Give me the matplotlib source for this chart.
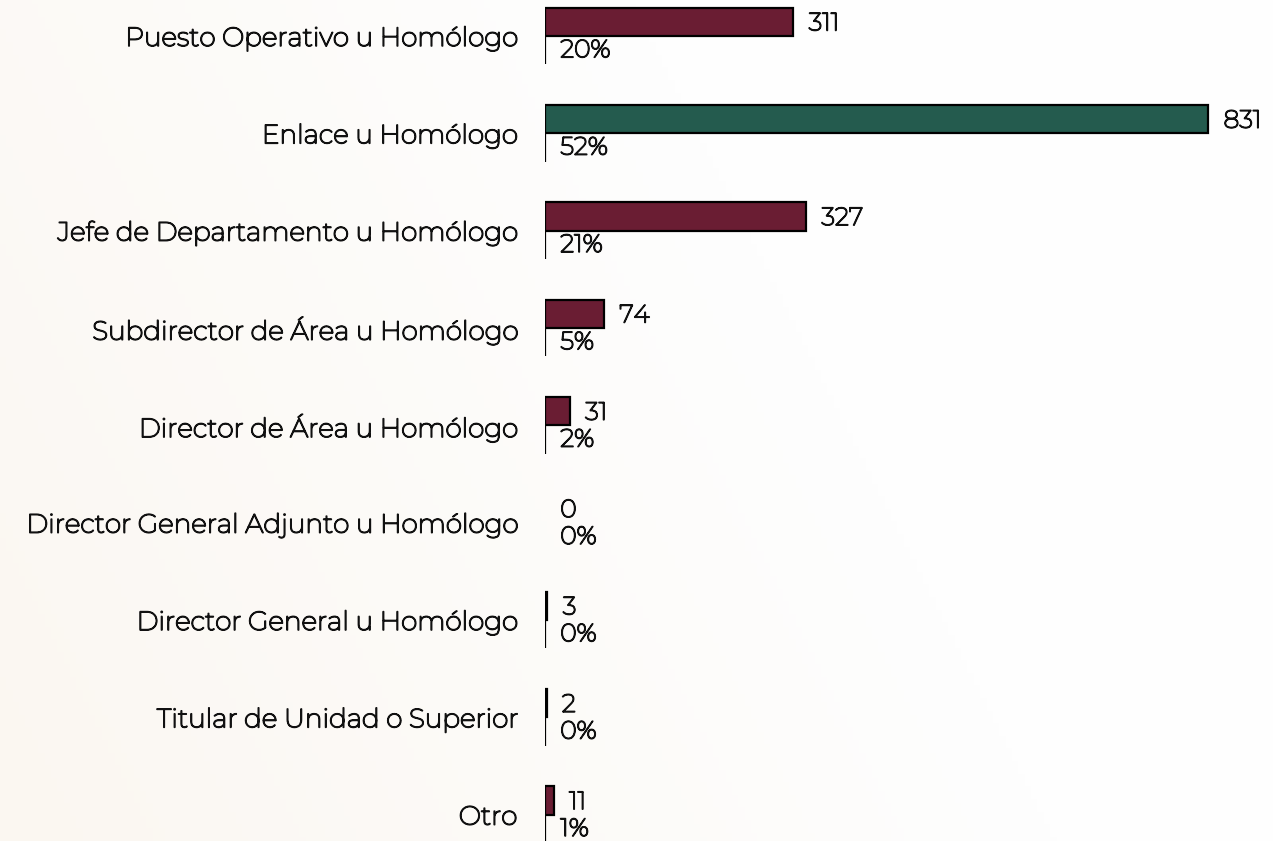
import matplotlib.pyplot as plt
import matplotlib.patheffects as pe
import numpy as np

categorias = ["Puesto Operativo u Homólogo", "Enlace u Homólogo",
              "Jefe de Departamento u Homólogo", "Subdirector de Área u Homólogo",
              "Director de Área u Homólogo", "Director General Adjunto u Homólogo",
              "Director General u Homólogo", "Titular de Unidad o Superior", "Otro"]
valores = [311, 831, 327, 74, 31, 0, 3, 2, 11]
porcentajes = [0.20, 0.52, 0.21, 0.05, 0.02, 0.0, 0.0019, 0.0013, 0.01]
etiquetas_pct = ["20%", "52%", "21%", "5%", "2%", "0%", "0%", "0%", "1%"]

guinda = "#6a1d33"
verde = "#245b4e"

# Montserrat instalada es variable y sale en trazo fino: se engrosa con un contorno
plt.rcParams['font.family'] = ['Montserrat', 'Noto Sans', 'DejaVu Sans']
grueso = [pe.withStroke(linewidth=1.1, foreground="#111111")]

fig = plt.figure(figsize=(12.73, 8.41), dpi=100)

# fondo con degradado muy suave
bg = fig.add_axes([0, 0, 1, 1], zorder=-1)
gx, gy = np.meshgrid(np.linspace(0, 1, 200), np.linspace(0, 1, 200))
grad = np.clip(1 - (gx * 1.2 + (1 - gy) * 0.4), 0, 1)
bg.imshow(grad, cmap=plt.matplotlib.colors.LinearSegmentedColormap.from_list(
    "fondo", ["#fefefe", "#fbf7f1"]), aspect="auto", extent=[0, 1, 0, 1])
bg.axis("off")

ax = fig.add_axes([545 / 1273, 0, 1 - 545 / 1273, 1])
ax.patch.set_alpha(0)

y = np.arange(len(categorias))
h = 0.29
colores = [verde if v == max(valores) else guinda for v in valores]
bordes_v = [1.6 if v > 0 else 0 for v in valores]
bordes_p = [1.6 if p > 0 else 0 for p in porcentajes]

ax.barh(y - h / 2, valores, height=h, color=colores, edgecolor="black", linewidth=bordes_v)
ax.barh(y + h / 2, porcentajes, height=h, color="black", edgecolor="black", linewidth=bordes_p)

for i in range(len(categorias)):
    ax.annotate(str(valores[i]), (valores[i], y[i] - h / 2), xytext=(11, -1.5),
                textcoords="offset points", va="center", ha="left", fontsize=18,
                color="#111111", path_effects=grueso)
    ax.annotate(etiquetas_pct[i], (0, y[i] + h / 2), xytext=(11, -0.5),
                textcoords="offset points", va="center", ha="left", fontsize=18,
                color="#111111", path_effects=grueso)

ax.set_yticks(y)
ax.set_yticklabels(categorias, fontsize=19, color="#111111")
for t in ax.get_yticklabels():
    t.set_path_effects(grueso)
ax.tick_params(axis="y", length=0, pad=20)
ax.set_xticks([])
ax.set_xlim(0, 912)
ax.set_ylim(8.27, -0.37)
for s in ax.spines.values():
    s.set_visible(False)

plt.savefig("out.png", dpi=100)
